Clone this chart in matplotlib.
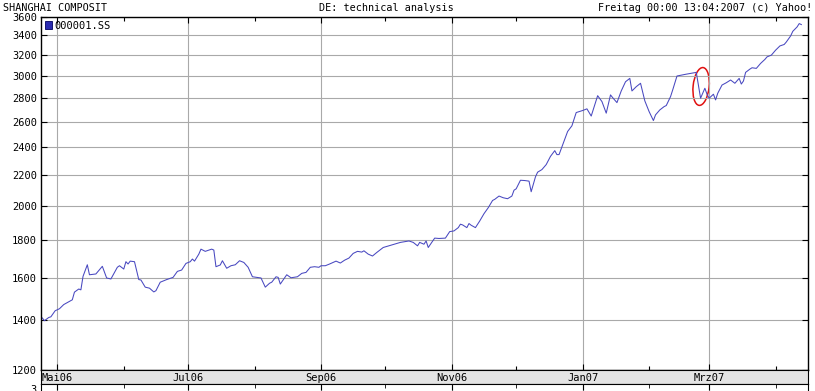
import matplotlib
matplotlib.use("Agg")
import matplotlib.pyplot as plt
from matplotlib.patches import Ellipse, Patch
from matplotlib.ticker import NullLocator, FixedLocator
from matplotlib.transforms import ScaledTranslation
import matplotlib.dates as mdates
import pandas as pd

# Shanghai Composite, daily close
dates = [
    "2006-04-24", "2006-04-25", "2006-04-27", "2006-04-28", "2006-04-30", "2006-05-02",
    "2006-05-04", "2006-05-08", "2006-05-09", "2006-05-11", "2006-05-12", "2006-05-13",
    "2006-05-15", "2006-05-16", "2006-05-19", "2006-05-22", "2006-05-24", "2006-05-26",
    "2006-05-29", "2006-05-30", "2006-06-01", "2006-06-02", "2006-06-03", "2006-06-04",
    "2006-06-06", "2006-06-08", "2006-06-09", "2006-06-11", "2006-06-13", "2006-06-15",
    "2006-06-16", "2006-06-18", "2006-06-21", "2006-06-24", "2006-06-26", "2006-06-28",
    "2006-06-30", "2006-07-02", "2006-07-03", "2006-07-04", "2006-07-06", "2006-07-07",
    "2006-07-09", "2006-07-12", "2006-07-13", "2006-07-14", "2006-07-16", "2006-07-17",
    "2006-07-19", "2006-07-21", "2006-07-23", "2006-07-25", "2006-07-27", "2006-07-29",
    "2006-07-31", "2006-08-02", "2006-08-04", "2006-08-06", "2006-08-08", "2006-08-09",
    "2006-08-11", "2006-08-12", "2006-08-13", "2006-08-16", "2006-08-18", "2006-08-21",
    "2006-08-23", "2006-08-25", "2006-08-27", "2006-08-29", "2006-08-31", "2006-09-01",
    "2006-09-03", "2006-09-05", "2006-09-08", "2006-09-10", "2006-09-12", "2006-09-14",
    "2006-09-16", "2006-09-18", "2006-09-20", "2006-09-21", "2006-09-23", "2006-09-25",
    "2006-09-27", "2006-09-30", "2006-10-04", "2006-10-08", "2006-10-12", "2006-10-14",
    "2006-10-16", "2006-10-17", "2006-10-19", "2006-10-20", "2006-10-21", "2006-10-24",
    "2006-10-26", "2006-10-29", "2006-10-31", "2006-11-02", "2006-11-04", "2006-11-05",
    "2006-11-06", "2006-11-08", "2006-11-09", "2006-11-10", "2006-11-12", "2006-11-14",
    "2006-11-16", "2006-11-18", "2006-11-20", "2006-11-21", "2006-11-23", "2006-11-25",
    "2006-11-27", "2006-11-29", "2006-11-30", "2006-12-01", "2006-12-03", "2006-12-05",
    "2006-12-07", "2006-12-08", "2006-12-10", "2006-12-11", "2006-12-13", "2006-12-15",
    "2006-12-17", "2006-12-19", "2006-12-20", "2006-12-21", "2006-12-23", "2006-12-25",
    "2006-12-27", "2006-12-29", "2007-01-01", "2007-01-03", "2007-01-05", "2007-01-08",
    "2007-01-10", "2007-01-12", "2007-01-14", "2007-01-15", "2007-01-17", "2007-01-19",
    "2007-01-21", "2007-01-23", "2007-01-24", "2007-01-26", "2007-01-28", "2007-01-30",
    "2007-02-01", "2007-02-03", "2007-02-04", "2007-02-06", "2007-02-08", "2007-02-09",
    "2007-02-11", "2007-02-12", "2007-02-14", "2007-02-18", "2007-02-22", "2007-02-23",
    "2007-02-25", "2007-02-27", "2007-02-28", "2007-03-01", "2007-03-03", "2007-03-04",
    "2007-03-05", "2007-03-07", "2007-03-09", "2007-03-11", "2007-03-13", "2007-03-15",
    "2007-03-16", "2007-03-17", "2007-03-18", "2007-03-20", "2007-03-21", "2007-03-23",
    "2007-03-25", "2007-03-27", "2007-03-28", "2007-03-30", "2007-04-01", "2007-04-03",
    "2007-04-05", "2007-04-06", "2007-04-08", "2007-04-09", "2007-04-11", "2007-04-12",
    "2007-04-13",
]
close = [
    1411, 1399, 1413, 1416, 1443, 1452,
    1471, 1493, 1529, 1544, 1540, 1606,
    1665, 1614, 1618, 1657, 1598, 1593,
    1652, 1660, 1643, 1681, 1669, 1684,
    1681, 1590, 1588, 1553, 1548, 1530,
    1536, 1577, 1590, 1601, 1631, 1638,
    1672, 1681, 1695, 1684, 1721, 1748,
    1736, 1748, 1743, 1655, 1664, 1686,
    1647, 1660, 1665, 1686, 1677, 1652,
    1604, 1601, 1598, 1553, 1572, 1577,
    1604, 1601, 1568, 1614, 1599, 1604,
    1621, 1626, 1652, 1655, 1652, 1660,
    1660, 1669, 1684, 1674, 1689, 1700,
    1725, 1736, 1732, 1739, 1721, 1711,
    1730, 1757, 1771, 1785, 1793, 1785,
    1766, 1785, 1775, 1793, 1757, 1809,
    1807, 1809, 1846, 1850, 1869, 1889,
    1885, 1869, 1893, 1883, 1869, 1908,
    1952, 1989, 2034, 2041, 2062, 2051,
    2045, 2062, 2100, 2109, 2166, 2164,
    2160, 2090, 2189, 2221, 2239, 2274,
    2333, 2375, 2346, 2346, 2432, 2521,
    2566, 2674, 2691, 2705, 2645, 2818,
    2767, 2669, 2825, 2801, 2758, 2860,
    2943, 2974, 2860, 2898, 2929, 2773,
    2682, 2608, 2655, 2696, 2724, 2733,
    2810, 2869, 2996, 3012, 3026, 3030,
    2796, 2884, 2831, 2796, 2831, 2781,
    2839, 2913, 2934, 2959, 2929, 2974,
    2922, 2950, 3030, 3061, 3074, 3068,
    3116, 3155, 3180, 3197, 3247, 3290,
    3305, 3331, 3394, 3443, 3490, 3527,
    3516,
]

y_ticks = [1200, 1400, 1600, 1800, 2000, 2200, 2400, 2600, 2800, 3000, 3200, 3400, 3600]
major_months = ["2006-05-01", "2006-07-01", "2006-09-01", "2006-11-01", "2007-01-01", "2007-03-01"]
month_labels = ["Mai06", "Jul06", "Sep06", "Nov06", "Jan07", "Mrz07"]
minor_months = ["2006-06-01", "2006-08-01", "2006-10-01", "2006-12-01", "2007-02-01", "2007-04-01"]

x = pd.to_datetime(dates)
major_x = mdates.date2num(pd.to_datetime(major_months))
minor_x = mdates.date2num(pd.to_datetime(minor_months))
x_left = pd.Timestamp("2006-05-01") - pd.Timedelta(days=7.6)
x_right = pd.Timestamp("2006-05-01") + pd.Timedelta(days=350.1)

plt.rcParams["font.family"] = ["DejaVu Sans Mono"]
plt.rcParams["font.size"] = 7.5

W, H = 815, 391
fig = plt.figure(figsize=(W / 100, H / 100), dpi=100)


def box(l, t, r, b):
    return [l / W, 1 - b / H, (r - l) / W, (b - t) / H]


grid_c = "#a9a9a9"
line_c = "#4848c0"

# main price panel
ax = fig.add_axes(box(41, 17, 808, 370))
ax.plot(x, close, color=line_c, lw=0.75)
ax.set_yscale("log")
ax.set_ylim(1200, 3600)
ax.set_xlim(x_left, x_right)
ax.yaxis.set_major_locator(FixedLocator(y_ticks))
ax.yaxis.set_minor_locator(NullLocator())
ax.set_yticklabels([str(v) for v in y_ticks])
ax.xaxis.set_major_locator(FixedLocator(major_x))
ax.xaxis.set_minor_locator(FixedLocator(minor_x))
ax.grid(True, which="major", color=grid_c, lw=0.8)
ax.tick_params(which="both", direction="in", top=True, right=True, length=4,
               width=0.8, labelbottom=False, labelsize=7.5, pad=3)
ax.tick_params(which="minor", length=3)
for s in ax.spines.values():
    s.set_linewidth(1.0)

ax.legend(handles=[Patch(facecolor="#2a2ab0", edgecolor="#000060", lw=0.6)],
          labels=["000001.SS"], loc="upper left", frameon=False,
          handlelength=0.7, handleheight=0.7, handletextpad=0.2,
          borderaxespad=0.25, borderpad=0.1, fontsize=7.5)

# hand-drawn marker around the late-February drop
cx = mdates.date2num(pd.Timestamp("2007-02-25 06:00"))
ring = Ellipse((0, 0), 0.16, 0.38, angle=-6, fill=False, edgecolor="#e01010", lw=1.1,
               transform=fig.dpi_scale_trans + ScaledTranslation(cx, 2900, ax.transData))
ax.add_artist(ring)

# gray month-label strip
bar = fig.add_axes(box(41, 370, 808, 384), sharex=ax)
bar.set_facecolor("#e4e4e4")
bar.set_ylim(0, 1)
bar.set_yticks([])
bar.tick_params(axis="x", which="both", length=0, labelbottom=False)
for xm, lab in zip(major_x, month_labels):
    bar.text(xm, 0.45, lab, ha="center", va="center", fontsize=7.5)

# top of the (cut-off) lower panel
low = fig.add_axes(box(41, 384, 808, 430), sharex=ax)
low.set_ylim(0, 1)
low.set_yticks([])
low.grid(True, axis="x", which="major", color=grid_c, lw=0.8)
low.tick_params(axis="x", which="both", direction="in", top=True, length=4,
                labelbottom=False)
low.tick_params(axis="x", which="minor", length=3)
fig.text(37 / W, 1 - 390 / H, "3", ha="right", va="center", fontsize=7.5)

fig.text(3 / W, 1 - 8 / H, "SHANGHAI COMPOSIT", ha="left", va="center", fontsize=7.3)
fig.text(386 / W, 1 - 8 / H, "DE: technical analysis", ha="center", va="center", fontsize=7.3)
fig.text(812 / W, 1 - 8 / H, "Freitag 00:00 13:04:2007 (c) Yahoo!", ha="right", va="center",
         fontsize=7.3)

fig.savefig("out.png", dpi=100)
